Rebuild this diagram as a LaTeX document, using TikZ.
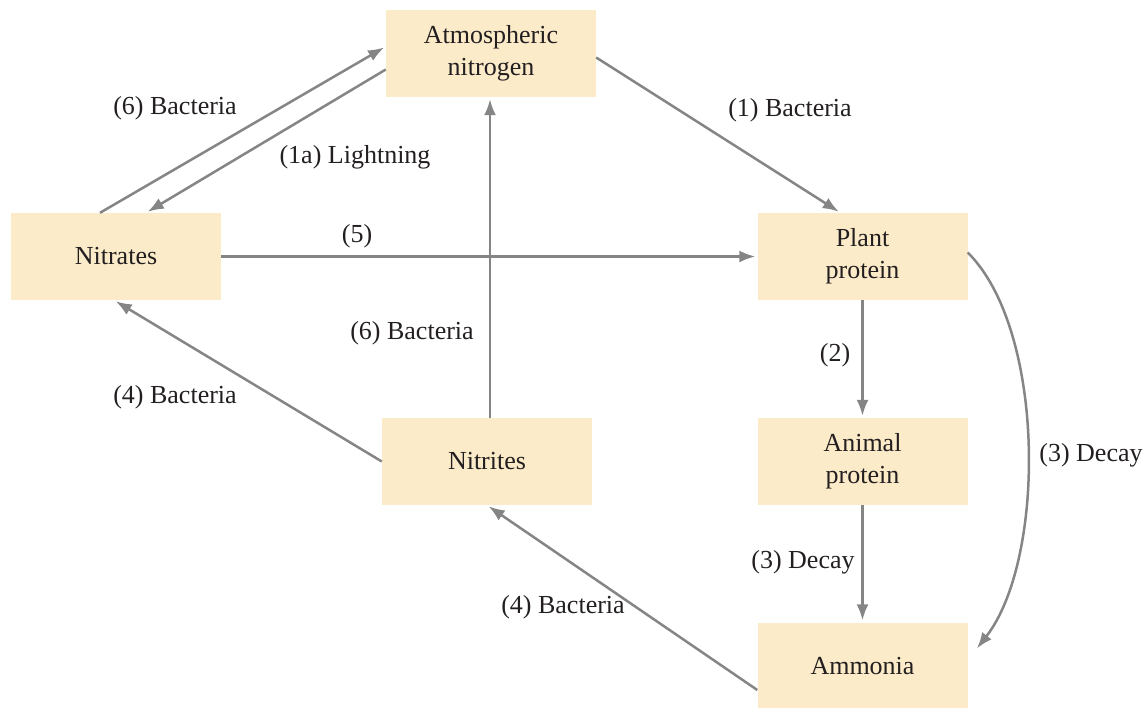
\documentclass[tikz,border=0pt]{standalone}
\usepackage{fontspec}
\setmainfont{Liberation Serif}
\usetikzlibrary{arrows.meta,calc}
\definecolor{boxfill}{HTML}{FCEBC9}
\definecolor{arrowgray}{HTML}{858585}
\definecolor{txt}{HTML}{231F20}
\tikzset{
  box/.style={fill=boxfill,draw=none,minimum width=210pt,minimum height=87pt,inner sep=0pt,align=center,text=txt,font=\fontsize{26}{32}\selectfont},
  lbl/.style={text=txt,font=\fontsize{26}{32}\selectfont,inner sep=0pt},
  flow/.style={draw=arrowgray,line width=2.5pt,-{Latex[length=16pt,width=12pt]},shorten >=2pt}
}
\begin{document}
\begin{tikzpicture}[x=1pt,y=-1pt]
\useasboundingbox (0,0) rectangle (1146,707);
\node[box] (atm) at (491,53.5) {Atmospheric\\nitrogen};
\node[box] (nitrates) at (116,256.5) {Nitrates};
\node[box] (plant) at (862.5,256.5) {Plant\\protein};
\node[box] (animal) at (862.5,461.5) {Animal\\protein};
\node[box] (nitrites) at (487,461.5) {Nitrites};
\node[box] (ammonia) at (862.5,666) {Ammonia};

\draw[flow] ([xshift=-16pt]nitrates.north) -- ([yshift=7pt]atm.west);
\draw[flow] ([yshift=-16pt]atm.west) -- ([xshift=30pt]nitrates.north);
\draw[flow] ([yshift=-4pt]atm.east) -- ([xshift=-22pt]plant.north);
\draw[flow] (nitrates.east) -- (plant.west);
\draw[flow] ([xshift=3pt]nitrites.north) -- ([xshift=3pt]nitrites.north |- atm.south);
\draw[flow] (nitrites.west) -- ([xshift=-2pt]nitrates.south);
\draw[flow] ([yshift=-24pt]ammonia.west) -- (nitrites.south);
\draw[flow] (plant.south) -- (animal.north);
\draw[flow] (animal.south) -- (ammonia.north);
\draw[flow] ([yshift=4pt]plant.east) .. controls (1046,330) and (1046,560) .. ([xshift=8pt,yshift=16pt]ammonia.east);

\node[lbl] (l6a) at (175,108) {(6) Bacteria};
\node[lbl] (l1a) at (355,157) {(1a) Lightning};
\node[lbl] (l1) at (790,110) {(1) Bacteria};
\node[lbl] (l5) at (357,236) {(5)};
\node[lbl] (l6b) at (412,333) {(6) Bacteria};
\node[lbl] (l4a) at (175,397) {(4) Bacteria};
\node[lbl] (l2) at (835,355) {(2)};
\node[lbl] (l3a) at (803,562) {(3) Decay};
\node[lbl] (l4b) at (563,607) {(4) Bacteria};
\node[lbl] (l3b) at (1091,455) {(3) Decay};
\end{tikzpicture}
\end{document}
